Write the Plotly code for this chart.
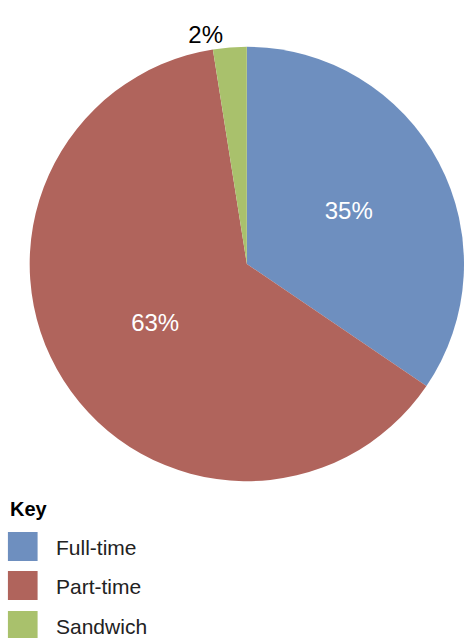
import plotly.graph_objects as go

categories = ["Full-time", "Part-time", "Sandwich"]
values = [34.5, 63.0, 2.5]
labels_text = ["35%", "63%", "2%"]
colors = ["#6e8fbf", "#b0645c", "#a9c16c"]

FONT = "Liberation Sans, Arial, sans-serif"

fig = go.Figure()
fig.add_trace(go.Pie(
    labels=categories,
    values=values,
    text=labels_text,
    textinfo="text",
    textposition=["inside", "inside", "outside"],
    insidetextfont=dict(color="white", size=24, family=FONT),
    outsidetextfont=dict(color="black", size=24, family=FONT),
    marker=dict(colors=colors, line=dict(width=0)),
    sort=False,
    direction="clockwise",
    rotation=0,
    hole=0,
    showlegend=False,
    insidetextorientation="horizontal",
    domain=dict(x=[30/469, 1.0], y=[1-487/638, 1-41/638]),
))

shapes = []
annotations = [dict(text="<b>Key</b>", x=8, y=509, xref="x", yref="y", showarrow=False,
                    xanchor="left", yanchor="middle",
                    font=dict(size=20, color="black", family=FONT))]
legend_tops = [532, 571, 611]
for i, (cat, col) in enumerate(zip(categories, colors)):
    t = legend_tops[i]
    shapes.append(dict(type="rect", xref="x", yref="y", x0=8, x1=38, y0=t, y1=t + 29,
                       fillcolor=col, line=dict(width=0)))
    annotations.append(dict(text=cat, x=55, y=t + 15, xref="x", yref="y", showarrow=False,
                            xanchor="left", yanchor="middle",
                            font=dict(size=21, color="#222", family=FONT)))

fig.update_layout(
    width=469, height=638,
    margin=dict(l=0, r=0, t=0, b=0),
    paper_bgcolor="white", plot_bgcolor="rgba(0,0,0,0)",
    xaxis=dict(range=[0, 469], visible=False, fixedrange=True),
    yaxis=dict(range=[638, 0], visible=False, fixedrange=True),
    shapes=shapes,
    annotations=annotations,
)

fig.write_html("out.html")
